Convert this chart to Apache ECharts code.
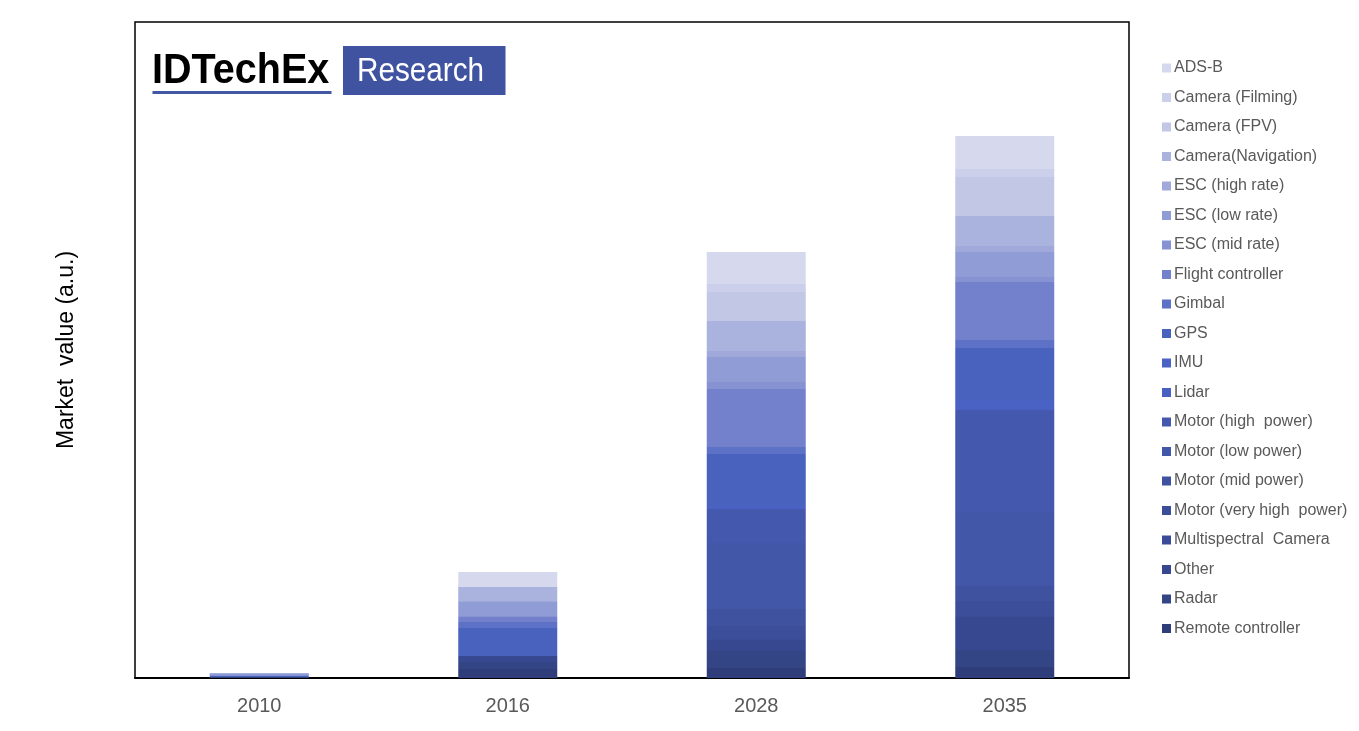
<!DOCTYPE html>
<html>
<head>
<meta charset="utf-8">
<script src="https://cdn.jsdelivr.net/npm/echarts@6/dist/echarts.min.js"></script>
<style>
  html, body { margin: 0; padding: 0; background: #fff; }
  #chart { width: 1359px; height: 731px; }
</style>
</head>
<body>
<div id="chart"></div>
<script>
// categories
const years = ['2010', '2016', '2028', '2035']

// legend order (top of stack first)
const componentNames = [
  'ADS-B', 'Camera (Filming)', 'Camera (FPV)', 'Camera(Navigation)',
  'ESC (high rate)', 'ESC (low rate)', 'ESC (mid rate)', 'Flight controller',
  'Gimbal', 'GPS', 'IMU', 'Lidar', 'Motor (high  power)', 'Motor (low power)',
  'Motor (mid power)', 'Motor (very high  power)', 'Multispectral  Camera',
  'Other', 'Radar', 'Remote controller'
]

const componentColors = [
  '#d6d9ee', '#cbcfea', '#c2c7e5', '#aab2de', '#a0a9da', '#909cd5', '#8692d2',
  '#7381cc', '#5d71c7', '#4862be', '#4a62c4', '#4760c1', '#4459ae', '#4257a8',
  '#3f52a0', '#3c4e9a', '#3a4c97', '#374890', '#344586', '#2f3e7b'
]

// market value (a.u.) per year, same order as componentNames
const v2010 = [0, 0, 0, 0, 0, 0.5, 0, 1, 1, 2, 0, 0, 0, 0, 0, 0, 0, 0, 0, 0.5]
const v2016 = [14, 0.5, 0.5, 14, 1, 14, 1, 5, 6, 28, 0, 0, 0, 0, 0, 0, 0, 6, 7, 9]
const v2028 = [32, 8, 29, 30, 6, 25, 7, 58, 7, 52, 2, 1, 34, 66, 17, 13, 1, 11, 17, 10]
const v2035 = [33, 8, 39, 30, 6, 25, 5, 58, 8, 52, 9, 1, 102, 74, 15, 15, 1, 33, 17, 11]

const yearValues = [v2010, v2016, v2028, v2035]

const chart = echarts.init(document.getElementById('chart'))

// ECharts stacks from the first series upward, so build bottom (Remote controller) first
const series = componentNames.map((name, i) => ({
  name,
  type: 'bar',
  stack: 'total',
  barWidth: 99,
  itemStyle: { color: componentColors[i] },
  emphasis: { disabled: true },
  data: yearValues.map(v => v[i])
})).reverse()

const font = 'Liberation Sans, Arial, sans-serif'

const option = {
  backgroundColor: '#fff',
  animation: false,
  textStyle: { fontFamily: font },
  grid: {
    left: 135,
    right: 230,
    top: 22,
    bottom: 53,
    show: true,
    borderColor: '#000',
    borderWidth: 1.5
  },
  legend: {
    data: componentNames,
    orient: 'vertical',
    left: 1157,
    top: 55,
    icon: 'rect',
    itemWidth: 9,
    itemHeight: 9,
    itemGap: 13.5,
    textStyle: { color: '#595959', fontSize: 16, padding: [0, 0, 0, -2] },
    selectedMode: false
  },
  xAxis: {
    type: 'category',
    data: years,
    axisLine: { lineStyle: { color: '#000', width: 2 } },
    axisTick: { show: false },
    axisLabel: { color: '#595959', fontSize: 20, margin: 18 }
  },
  yAxis: {
    type: 'value',
    min: 0,
    max: 656,
    name: 'Market  value (a.u.)',
    nameLocation: 'middle',
    nameGap: 57,
    nameTextStyle: { color: '#000', fontSize: 23 },
    axisLine: { show: false },
    axisTick: { show: false },
    axisLabel: { show: false },
    splitLine: { show: false }
  },
  graphic: [
    {
      type: 'text',
      x: 152,
      y: 50,
      scaleX: 0.92,
      style: { text: 'IDTechEx', fill: '#000', font: 'bold 43px ' + font }
    },
    {
      type: 'rect',
      shape: { x: 152.5, y: 91, width: 179, height: 3 },
      style: { fill: '#4258a4' }
    },
    {
      type: 'rect',
      shape: { x: 343, y: 46, width: 162.5, height: 49 },
      style: { fill: '#3f53a0' }
    },
    {
      type: 'text',
      x: 357,
      y: 55,
      scaleX: 0.9,
      style: { text: 'Research', fill: '#fff', font: '33px ' + font }
    }
  ],
  series
}

chart.setOption(option)
</script>
</body>
</html>
